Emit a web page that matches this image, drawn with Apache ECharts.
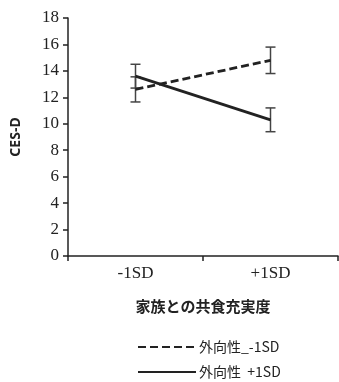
<!DOCTYPE html>
<html><head><meta charset="utf-8">
<script src="https://cdn.jsdelivr.net/npm/echarts@6/dist/echarts.min.js"></script>
<style>html,body{margin:0;padding:0;background:#fff}#c{width:339px;height:382px}</style>
</head><body><div id="c"></div>
<script>
var categories = ['-1SD', '+1SD'];
var seriesNames = ['外向性_-1SD', '外向性  +1SD'];
var lowExtra = [12.6, 14.8];
var lowExtraErr = [0.95, 1.0];
var highExtra = [13.6, 10.3];
var highExtraErr = [0.9, 0.9];
var yTicks = {min: 0, max: 18, interval: 2};

var serif = 'Liberation Serif';

function errSeries(vals, errs) {
  return {
    type: 'custom',
    silent: true,
    z: 1,
    data: vals.map(function (v, i) { return [i, v - errs[i], v + errs[i]]; }),
    renderItem: function (params, api) {
      var lo = api.coord([api.value(0), api.value(1)]);
      var hi = api.coord([api.value(0), api.value(2)]);
      var w = 5;
      var st = {stroke: '#444', lineWidth: 1.5};
      return {type: 'group', children: [
        {type: 'line', shape: {x1: lo[0], y1: lo[1], x2: hi[0], y2: hi[1]}, style: st},
        {type: 'line', shape: {x1: lo[0] - w, y1: lo[1], x2: lo[0] + w, y2: lo[1]}, style: st},
        {type: 'line', shape: {x1: hi[0] - w, y1: hi[1], x2: hi[0] + w, y2: hi[1]}, style: st}
      ]};
    }
  };
}

var chart = echarts.init(document.getElementById('c'));
var option = {
  animation: false,
  grid: {left: 68, right: 1, top: 18, bottom: 126},
  xAxis: {
    type: 'category', data: categories, boundaryGap: true,
    axisLine: {lineStyle: {color: '#222', width: 1.5}},
    axisTick: {show: true, length: 5, lineStyle: {color: '#222', width: 1.5}},
    axisLabel: {fontFamily: serif, fontSize: 17, color: '#222', margin: 9},
    name: '家族との共食充実度', nameLocation: 'middle', nameGap: 43,
    nameTextStyle: {fontFamily: 'Noto Sans CJK JP', fontWeight: 'bold', fontSize: 15, color: '#222'}
  },
  yAxis: {
    type: 'value', min: yTicks.min, max: yTicks.max, interval: yTicks.interval,
    splitLine: {show: false},
    axisLine: {show: true, lineStyle: {color: '#222', width: 1.5}},
    axisTick: {show: true, length: 5, lineStyle: {color: '#222', width: 1.5}},
    axisLabel: {fontFamily: serif, fontSize: 17, color: '#222', margin: 9},
    name: 'CES-D', nameLocation: 'middle', nameGap: 45,
    nameTextStyle: {fontFamily: 'Noto Sans', fontWeight: 'bold', fontSize: 14, color: '#222'}
  },
  legend: {
    orient: 'vertical', left: 137, top: 340, padding: 0, itemGap: 11, itemWidth: 58, itemHeight: 14,
    data: seriesNames,
    itemStyle: {opacity: 0},
    textStyle: {fontFamily: 'Noto Sans CJK JP', fontSize: 14, color: '#222', padding: [0,0,0,-2]}
  },
  series: [
    {name: seriesNames[0], type: 'line', data: lowExtra, symbol: 'none', z: 3,
     lineStyle: {color: '#222', width: 2.8, type: [8, 4]}, itemStyle: {color: '#222'}},
    {name: seriesNames[1], type: 'line', data: highExtra, symbol: 'none', z: 3,
     lineStyle: {color: '#222', width: 2.8, type: 'solid'}, itemStyle: {color: '#222'}},
    errSeries(lowExtra, lowExtraErr),
    errSeries(highExtra, highExtraErr)
  ]
};
chart.setOption(option);
setTimeout(function () { chart.setOption(option, true); }, 50);
</script></body></html>
